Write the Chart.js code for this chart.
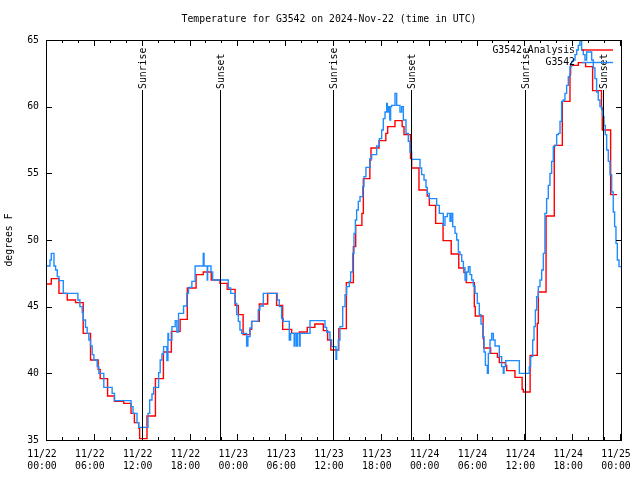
<!DOCTYPE html>
<html><head><meta charset="utf-8">
<script src="https://cdn.jsdelivr.net/npm/chart.js@4/dist/chart.umd.min.js"></script>
<style>html,body{margin:0;padding:0;background:#fff}canvas{display:block}</style>
</head><body>
<canvas id="c" width="640" height="480"></canvas>
<script>
const titleText = 'Temperature for G3542 on 2024-Nov-22 (time in UTC)';
const yAxisTitle = 'degrees F';
const dayLabels = ['11/22', '11/23', '11/24', '11/25'];
const hourLabels = ['00:00', '06:00', '12:00', '18:00'];
const seriesNames = ['G3542 Analysis', 'G3542'];
const sunriseHours = [11.87, 35.9, 60.0];
const sunsetHours = [21.75, 45.7, 69.78];

// hours since 11/22 00:00 UTC, value holds until next point
const analysisHours = [
  0, 0.54, 1.5, 2.54, 3.58, 4.54, 5.46, 6.42, 6.67, 7.6,
  8.46, 9.63, 10.54, 10.96, 11.5, 11.62, 12.54, 13.6, 14.6, 15.6,
  16.7, 17.6, 18.7, 19.6, 20.6, 21.7, 22.6, 23.6, 24.0, 24.6,
  25.46, 25.67, 26.63, 27.68, 28.8, 29.56, 30.69, 31.65, 32.65, 33.6,
  34.66, 35.2, 35.6, 36.6, 37.55, 38.43, 38.72, 39.5, 39.68, 40.5,
  40.64, 41.65, 42.5, 42.73, 43.65, 44.55, 44.78, 45.6, 45.74, 46.66,
  47.7, 47.96, 48.75, 49.68, 50.7, 51.65, 52.3, 52.58, 53.6, 53.72,
  54.7, 54.78, 55.65, 56.5, 56.74, 57.5, 57.66, 58.7, 59.6, 59.75,
  60.6, 61.5, 61.63, 62.6, 63.63, 64.64, 65.6, 65.68, 66.64, 67.56,
  68.44, 69.55, 69.65, 70.7, 71.5
];
const analysisTemps = [
  46.7, 47.1, 46.0, 45.5, 45.3, 43.0, 41.0, 40.3, 39.6, 38.3,
  37.9, 37.75, 37.0, 36.3, 35.9, 35.1, 36.8, 39.6, 41.6, 43.15,
  44.05, 46.4, 47.4, 47.6, 47.0, 46.75, 46.3, 45.1, 44.4, 42.9,
  43.3, 43.9, 45.2, 46.0, 45.1, 43.3, 43.0, 43.1, 43.45, 43.7,
  43.2, 42.5, 41.75, 43.35, 46.8, 49.5, 51.1, 52.0, 54.6, 56.0,
  56.9, 57.45, 58.0, 58.5, 58.95, 58.5, 57.9, 56.1, 55.4, 53.75,
  53.3, 52.6, 51.25, 49.95, 48.95, 47.9, 47.55, 46.8, 45.0, 44.3,
  42.6, 41.9, 41.5, 41.2, 40.8, 40.6, 40.2, 39.7, 38.8, 38.6,
  41.35, 43.75, 46.1, 51.8, 57.1, 60.4, 62.4, 63.1, 63.3, 63.0,
  61.2, 59.9, 58.25, 53.4, 53.4
];

const obsHours = [
  0, 0.375, 0.54, 0.875, 1.08, 1.29, 1.5, 2.04, 3.875, 4.125,
  4.42, 4.54, 4.83, 5.04, 5.25, 5.46, 5.67, 5.875, 6.29, 6.5,
  7.125, 8.17, 8.46, 10.54, 10.79, 11.29, 11.5, 12.67, 12.875, 13.17,
  13.375, 14.0, 14.2, 14.42, 14.625, 15.04, 15.17, 15.25, 15.67, 16.08,
  16.29, 16.5, 17.125, 17.54, 17.75, 18.17, 18.58, 19.6, 19.7, 20.1,
  20.15, 20.57, 20.78, 22.74, 23.04, 23.58, 23.79, 24.0, 24.2, 24.42,
  25.04, 25.2, 25.46, 25.67, 26.5, 26.7, 27.13, 28.89, 29.14, 29.43,
  29.64, 30.39, 30.56, 31.0, 31.1, 31.3, 31.4, 31.65, 31.75, 32.99,
  34.87, 35.08, 35.49, 35.7, 36.25, 36.33, 36.54, 36.75, 37.09, 37.38,
  37.59, 37.92, 38.09, 38.34, 38.51, 38.68, 38.84, 39.05, 39.26, 39.6,
  39.76, 40.01, 40.52, 40.72, 41.35, 41.69, 41.98, 42.19, 42.4, 42.61,
  42.7, 42.82, 43.0, 43.1, 43.23, 43.65, 43.86, 44.28, 44.49, 44.7,
  45.03, 45.32, 45.53, 45.74, 46.79, 46.99, 47.29, 47.54, 47.71, 47.96,
  48.88, 49.21, 49.71, 49.92, 50.22, 50.55, 50.7, 50.89, 51.18, 51.39,
  51.6, 51.81, 52.02, 52.23, 52.44, 52.64, 52.85, 53.06, 53.27, 53.48,
  53.69, 53.98, 54.23, 54.44, 54.65, 54.82, 54.99, 55.24, 55.36, 55.57,
  55.78, 55.99, 56.2, 56.74, 57.03, 57.24, 57.33, 57.54, 59.25, 60.5,
  60.67, 60.92, 61.09, 61.26, 61.42, 61.63, 61.84, 62.05, 62.26, 62.46,
  62.67, 62.88, 63.09, 63.3, 63.51, 63.72, 63.93, 64.14, 64.35, 64.55,
  64.76, 64.97, 65.18, 65.39, 65.6, 65.81, 66.02, 66.23, 66.44, 66.64,
  66.85, 67.06, 67.27, 67.48, 67.69, 68.32, 68.53, 68.73, 68.94, 69.15,
  69.36, 69.57, 69.7, 69.86, 70.03, 70.2, 70.41, 70.62, 70.83, 71.03,
  71.2, 71.37, 71.54, 71.75, 72.0
];
const obsTemps = [
  48.05, 48.5, 49.0, 48.05, 47.75, 47.25, 46.95, 46.0, 45.5, 45.0,
  44.55, 44.0, 43.45, 43.0, 42.5, 42.05, 41.4, 41.0, 40.5, 40.0,
  38.95, 38.5, 37.95, 37.5, 37.0, 36.3, 35.95, 37.0, 38.0, 38.45,
  38.95, 40.05, 41.0, 41.45, 42.0, 40.95, 43.0, 42.5, 43.5, 43.95,
  43.1, 44.5, 45.05, 46.0, 46.45, 46.9, 48.05, 49.0, 48.05, 47.0,
  48.05, 47.6, 47.0, 46.4, 46.0, 45.25, 44.4, 43.9, 43.25, 43.0,
  42.05, 42.75, 43.4, 43.9, 44.75, 45.05, 46.0, 45.5, 45.0, 44.1,
  43.9, 42.5, 43.0, 42.05, 43.0, 42.05, 43.0, 42.05, 43.0, 43.95,
  43.45, 43.1, 42.5, 42.0, 41.05, 41.75, 42.5, 43.5, 45.0, 45.9,
  46.5, 46.9, 47.6, 49.0, 50.5, 51.5, 52.25, 52.9, 53.25, 54.0,
  54.75, 55.45, 56.1, 56.4, 57.05, 57.6, 58.25, 59.1, 59.6, 60.25,
  59.6, 60.0, 59.0, 60.0, 60.1, 61.0, 60.1, 59.6, 60.0, 59.0,
  58.0, 57.4, 56.6, 56.05, 55.4, 54.9, 54.5, 53.95, 53.5, 53.1,
  52.6, 52.0, 51.1, 51.75, 52.0, 51.4, 52.0, 51.0, 50.5, 50.0,
  49.1, 48.9, 48.4, 47.9, 47.0, 47.6, 48.0, 47.4, 47.0, 46.55,
  46.0, 45.25, 44.4, 43.7, 42.75, 41.6, 40.6, 40.0, 41.5, 42.5,
  43.0, 42.5, 42.05, 41.25, 40.5, 40.0, 40.5, 40.95, 40.0, 40.5,
  41.25, 42.5, 43.5, 44.75, 45.75, 46.5, 47.0, 47.75, 49.0, 52.0,
  53.1, 54.1, 55.0, 55.9, 57.0, 57.1, 57.9, 58.0, 58.9, 60.4,
  60.5, 61.0, 61.6, 62.25, 63.0, 63.4, 63.5, 63.9, 64.25, 64.6,
  65.4, 64.25, 63.9, 63.5, 64.1, 63.5, 62.9, 62.1, 61.1, 60.5,
  60.0, 59.75, 59.25, 58.6, 57.9, 56.75, 55.9, 54.9, 53.6, 52.1,
  51.0, 49.75, 48.5, 48.0, 48.0
];

const FONT = '"DejaVu Sans Mono", monospace';
const FS = 9.8;
const RED = '#ff0000';
const BLUE = '#1e8cff';

const toPoints = (hs, vs) => hs.map((h, i) => ({ x: h, y: vs[i] }));

const overlay = {
  id: 'overlay',
  afterDatasetsDraw(chart) {
    const { ctx, chartArea: a, scales: { x, y } } = chart;
    ctx.save();
    ctx.strokeStyle = '#000';
    ctx.lineWidth = 1;
    // sunrise / sunset lines
    const events = sunriseHours.map(h => [h, 'Sunrise']).concat(sunsetHours.map(h => [h, 'Sunset']));
    ctx.beginPath();
    events.forEach(([h]) => {
      const px = Math.round(x.getPixelForValue(h)) + 0.5;
      ctx.moveTo(px, 90); ctx.lineTo(px, a.bottom);
    });
    ctx.stroke();
    // frame
    ctx.strokeRect(a.left - 0.5, a.top + 0.5, a.right - a.left + 1, a.bottom - a.top);
    // ticks (inward, mirrored)
    ctx.beginPath();
    for (let h = 0; h <= 72; h += 2) {
      const px = Math.round(x.getPixelForValue(h)) - 0.5;
      const len = h % 6 === 0 ? 6 : 3;
      ctx.moveTo(px, a.bottom); ctx.lineTo(px, a.bottom - len);
      ctx.moveTo(px, a.top); ctx.lineTo(px, a.top + len);
    }
    for (let v = 35; v <= 65; v += 5) {
      const py = Math.round(y.getPixelForValue(v)) + 0.5;
      ctx.moveTo(a.left, py); ctx.lineTo(a.left + 5, py);
      ctx.moveTo(a.right, py); ctx.lineTo(a.right - 5, py);
    }
    ctx.stroke();
    // event labels
    ctx.fillStyle = '#000';
    ctx.font = FS + 'px ' + FONT;
    events.forEach(([h, t]) => {
      const px = Math.round(x.getPixelForValue(h)) + 1;
      ctx.save();
      ctx.translate(px, 89);
      ctx.rotate(-Math.PI / 2);
      ctx.textAlign = 'left';
      ctx.textBaseline = 'middle';
      ctx.fillText(t, 0, 0);
      ctx.restore();
    });
    // legend
    ctx.textAlign = 'right';
    ctx.textBaseline = 'middle';
    const rows = [[seriesNames[0], RED, 50], [seriesNames[1], BLUE, 62.5]];
    rows.forEach(([t, c, yy]) => {
      ctx.fillStyle = '#000';
      ctx.fillText(t, 575, yy);
      ctx.strokeStyle = c; ctx.lineWidth = 1.4;
      ctx.beginPath(); ctx.moveTo(582, yy); ctx.lineTo(613, yy); ctx.stroke();
    });
    // title
    ctx.fillStyle = '#000';
    ctx.textAlign = 'center';
    ctx.textBaseline = 'middle';
    ctx.fillText(titleText, 329, 19);
    ctx.restore();
  }
};

Chart.defaults.font.family = FONT;
Chart.defaults.font.size = FS;
Chart.defaults.color = '#000';

new Chart(document.getElementById('c'), {
  type: 'line',
  data: {
    datasets: [
      { label: seriesNames[0], data: toPoints(analysisHours, analysisTemps), borderColor: RED, borderWidth: 1.4, pointRadius: 0, stepped: true, fill: false, order: 2 },
      { label: seriesNames[1], data: toPoints(obsHours, obsTemps), borderColor: BLUE, borderWidth: 1.4, pointRadius: 0, stepped: true, fill: false, order: 1 }
    ]
  },
  options: {
    responsive: false,
    animation: false,
    devicePixelRatio: 1,
    layout: { padding: { top: 40, right: 19, left: 0, bottom: 0 } },
    plugins: { legend: { display: false }, title: { display: false }, tooltip: { enabled: false } },
    scales: {
      x: {
        type: 'linear', min: 0, max: 72,
        grid: { display: false, drawTicks: false },
        border: { display: false },
        afterFit: s => { s.height = 40; s.paddingLeft = 0; s.paddingRight = 0; },
        ticks: {
          stepSize: 6, autoSkip: false, maxRotation: 0, minRotation: 0,
          padding: 9, labelOffset: -5,
          callback: v => [dayLabels[Math.floor(v / 24)], hourLabels[(v % 24) / 6]]
        }
      },
      y: {
        min: 35, max: 65,
        grid: { display: false, drawTicks: false },
        border: { display: false },
        afterFit: s => { s.width = 47; s.paddingTop = 0; s.paddingBottom = 0; },
        ticks: { stepSize: 5, padding: 8 },
        title: { display: true, text: yAxisTitle, padding: { top: 4, bottom: 0 } }
      }
    }
  },
  plugins: [overlay]
});
</script>
</body></html>
